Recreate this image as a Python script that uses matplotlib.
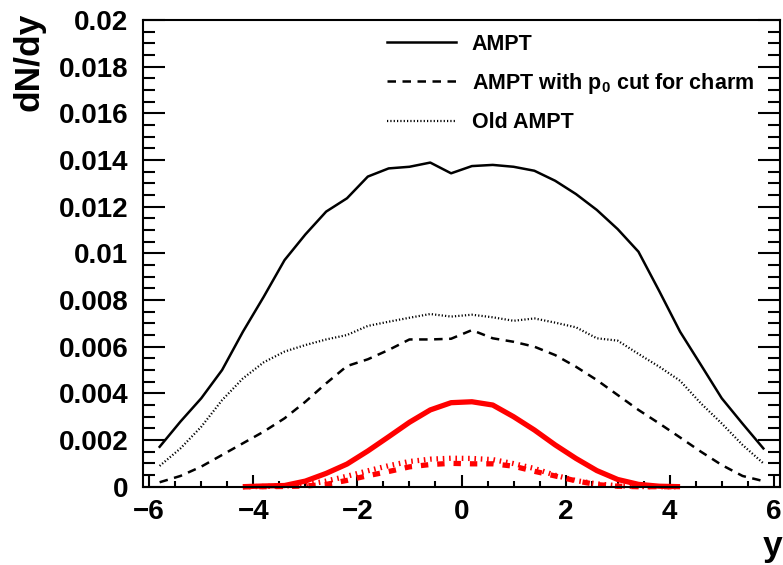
import matplotlib
matplotlib.use("Agg")
import matplotlib.pyplot as plt
from matplotlib.ticker import MultipleLocator, FixedLocator, FixedFormatter

plt.rcParams["font.family"] = ["Liberation Sans", "DejaVu Sans"]
plt.rcParams["font.weight"] = "bold"
plt.rcParams["mathtext.fontset"] = "custom"
plt.rcParams["mathtext.rm"] = "Liberation Sans:bold"
plt.rcParams["mathtext.it"] = "Liberation Sans:bold"
plt.rcParams["mathtext.default"] = "rm"

# rapidity bin centres (bin width 0.4)
y_all = [-5.8, -5.4, -5.0, -4.6, -4.2, -3.8, -3.4, -3.0, -2.6, -2.2,
         -1.8, -1.4, -1.0, -0.6, -0.2, 0.2, 0.6, 1.0, 1.4, 1.8,
         2.2, 2.6, 3.0, 3.4, 3.8, 4.2, 4.6, 5.0, 5.4, 5.8]

ampt = [0.00171, 0.00279, 0.00379, 0.00500, 0.00664, 0.00814, 0.00971, 0.01081, 0.01179, 0.01236,
        0.01329, 0.01364, 0.01371, 0.01389, 0.01343, 0.01374, 0.01379, 0.01371, 0.01354, 0.01311,
        0.01254, 0.01186, 0.01104, 0.01007, 0.00838, 0.00664, 0.00522, 0.00379, 0.00270, 0.00164]

ampt_p0 = [0.00019, 0.00046, 0.00086, 0.00136, 0.00186, 0.00236, 0.00293, 0.00364, 0.00443, 0.00517,
           0.00546, 0.00586, 0.00631, 0.00631, 0.00634, 0.00671, 0.00636, 0.00621, 0.00600, 0.00564,
           0.00514, 0.00457, 0.00393, 0.00329, 0.00271, 0.00211, 0.00150, 0.00093, 0.00046, 0.00024]

old_ampt = [0.00089, 0.00164, 0.00257, 0.00371, 0.00464, 0.00533, 0.00579, 0.00607, 0.00631, 0.00650,
            0.00689, 0.00707, 0.00724, 0.00740, 0.00729, 0.00737, 0.00726, 0.00711, 0.00721, 0.00703,
            0.00683, 0.00636, 0.00626, 0.00569, 0.00514, 0.00454, 0.00357, 0.00271, 0.00179, 0.00100]

# red (charm) curves, |y| < 4.2
y_c = [-4.2, -3.8, -3.4, -3.0, -2.6, -2.2, -1.8, -1.4, -1.0, -0.6, -0.2,
       0.2, 0.6, 1.0, 1.4, 1.8, 2.2, 2.6, 3.0, 3.4, 3.8, 4.2]

c_ampt = [0.0, 0.00003, 0.00005, 0.00024, 0.00057, 0.00097, 0.00153, 0.00214, 0.00276, 0.00329, 0.00360,
          0.00364, 0.00350, 0.00300, 0.00243, 0.00179, 0.00121, 0.00069, 0.00031, 0.00010, 0.00002, 0.0]

c_ampt_p0 = [0.0, 0.0, 0.00001, 0.00003, 0.00010, 0.00027, 0.00047, 0.00065, 0.00085, 0.00095, 0.00100,
             0.00098, 0.00098, 0.00088, 0.00066, 0.00046, 0.00025, 0.00009, 0.00002, 0.0, 0.0, 0.0]

c_old = [0.0, 0.00001, 0.00003, 0.00008, 0.00024, 0.00045, 0.00068, 0.00090, 0.00108, 0.00118, 0.00122,
         0.00121, 0.00116, 0.00099, 0.00078, 0.00049, 0.00026, 0.00012, 0.00004, 0.00001, 0.0, 0.0]

ytick_vals = [0, 0.002, 0.004, 0.006, 0.008, 0.01, 0.012, 0.014, 0.016, 0.018, 0.02]
ytick_labels = ["0", "0.002", "0.004", "0.006", "0.008", "0.01", "0.012", "0.014", "0.016", "0.018", "0.02"]
xtick_vals = [-6, -4, -2, 0, 2, 4, 6]
xtick_labels = ["\u22126", "\u22124", "\u22122", "0", "2", "4", "6"]

fig = plt.figure(figsize=(7.83, 5.65), dpi=100)
ax = fig.add_axes([0.1826, 0.1386, 0.8136, 0.826])

ax.plot(y_all, ampt, color="black", lw=1.8, label="AMPT")
ax.plot(y_all, ampt_p0, color="black", lw=1.8, linestyle=(0, (3.4, 2.6)),
        label="AMPT with p$_{0}$ cut for charm")
ax.plot(y_all, old_ampt, color="black", lw=1.6, linestyle=(0, (0.55, 0.95)), label="Old AMPT")

ax.plot(y_c, c_ampt, color="red", lw=3.8, clip_on=False, solid_capstyle="butt")
ax.plot(y_c, c_ampt_p0, color="red", lw=3.8, linestyle=(0, (1.4, 1.7)), clip_on=False)
ax.plot(y_c, c_old, color="red", lw=3.8, linestyle=(0, (0.3, 0.9)), clip_on=False)

ax.set_xlim(-6.12, 6.12)
ax.set_ylim(0, 0.02)

ax.yaxis.set_major_locator(FixedLocator(ytick_vals))
ax.yaxis.set_major_formatter(FixedFormatter(ytick_labels))
ax.yaxis.set_minor_locator(MultipleLocator(0.0005))
ax.xaxis.set_major_locator(FixedLocator(xtick_vals))
ax.xaxis.set_major_formatter(FixedFormatter(xtick_labels))
ax.xaxis.set_minor_locator(MultipleLocator(0.5))

ax.tick_params(axis="y", which="both", direction="in", left=True, right=True, width=1.5,
               labelsize=20, pad=10.5)
ax.tick_params(axis="y", which="major", length=15.5)
ax.tick_params(axis="y", which="minor", length=8.5)
ax.tick_params(axis="x", which="both", direction="in", bottom=True, top=False, width=1.5,
               labelsize=20, pad=9)
ax.tick_params(axis="x", which="major", length=8.6)
ax.tick_params(axis="x", which="minor", length=4.5)
for s in ax.spines.values():
    s.set_linewidth(1.5)

fig.text(29 / 783, 1 - 13 / 565, "dN/dy", rotation=90, ha="center", va="top", fontsize=25.5)
fig.text(782 / 783, 1 - 556 / 565, "y", ha="right", va="baseline", fontsize=25.5)

ax.legend(loc="upper left", bbox_to_anchor=(376 / 783, 1 - 23 / 565),
          bbox_transform=fig.transFigure, frameon=False, fontsize=15.5,
          handlelength=3.2, handletextpad=0.75, labelspacing=0.75, borderpad=0)

fig.savefig("out.png", dpi=100)
plt.close(fig)
